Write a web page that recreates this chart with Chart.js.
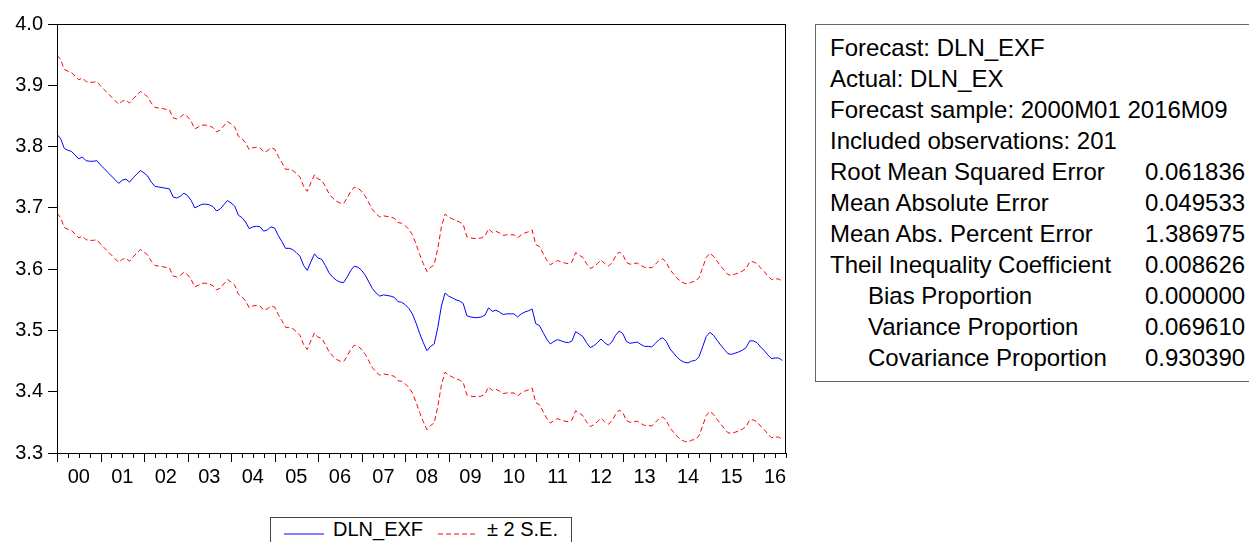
<!DOCTYPE html>
<html>
<head>
<meta charset="utf-8">
<script src="https://cdn.jsdelivr.net/npm/chart.js@4/dist/chart.umd.min.js"></script>
<style>
  html, body { margin: 0; padding: 0; width: 1249px; height: 542px; overflow: hidden; background: #fff; }
  body { position: relative; font-family: "Liberation Sans", Arial, sans-serif; color: #000; }
  #chart { position: absolute; left: 0; top: 0; }
  #stats { position: absolute; left: 815px; top: 24px; width: 500px; height: 356px; border: 1px solid #666; }
  #stats div { position: absolute; font-size: 24px; line-height: 31px; white-space: nowrap; }
  #legend { position: absolute; left: 270px; top: 517px; width: 300px; height: 40px; border: 1px solid #444; }
  #legend span { position: absolute; font-size: 20px; line-height: 20px; top: 1px; white-space: nowrap; }
  #legend svg { position: absolute; top: 14px; }
</style>
</head>
<body>
<canvas id="chart" width="790" height="500"></canvas>
<div id="stats"></div>
<div id="legend"></div>
<script>
// year tick labels (2000 .. 2016)
const yearLabels = ['00','01','02','03','04','05','06','07','08','09','10','11','12','13','14','15','16'];

// DLN_EXF forecast, monthly 2000M01 - 2016M09 (201 obs)
const forecast = [
  3.820,3.813,3.797,3.794,3.792,3.786,3.780,3.783,3.777,3.776,3.776,3.777,
  3.770,3.764,3.758,3.752,3.746,3.740,3.745,3.747,3.742,3.749,3.755,3.761,
  3.757,3.752,3.742,3.735,3.734,3.733,3.732,3.731,3.718,3.716,3.719,3.724,
  3.720,3.712,3.700,3.703,3.706,3.706,3.705,3.702,3.695,3.698,3.705,3.712,
  3.708,3.703,3.688,3.684,3.677,3.666,3.669,3.670,3.669,3.662,3.664,3.669,
  3.667,3.655,3.645,3.634,3.634,3.632,3.627,3.621,3.606,3.598,3.612,3.625,
  3.618,3.616,3.606,3.594,3.587,3.582,3.579,3.578,3.587,3.598,3.605,3.603,
  3.598,3.590,3.579,3.568,3.561,3.556,3.558,3.557,3.556,3.554,3.547,3.546,
  3.542,3.536,3.527,3.512,3.495,3.480,3.467,3.474,3.478,3.505,3.540,3.561,
  3.556,3.553,3.550,3.548,3.544,3.524,3.522,3.521,3.521,3.522,3.525,3.537,
  3.531,3.533,3.530,3.526,3.527,3.527,3.527,3.522,3.527,3.530,3.532,3.535,
  3.511,3.508,3.497,3.486,3.478,3.482,3.485,3.483,3.481,3.480,3.483,3.498,
  3.494,3.490,3.480,3.472,3.475,3.480,3.486,3.480,3.476,3.481,3.492,3.499,
  3.495,3.482,3.479,3.480,3.481,3.477,3.474,3.474,3.473,3.479,3.485,3.488,
  3.482,3.470,3.463,3.456,3.451,3.448,3.447,3.450,3.451,3.457,3.473,3.490,
  3.497,3.492,3.484,3.476,3.469,3.462,3.461,3.463,3.465,3.468,3.472,3.483,
  3.483,3.480,3.473,3.467,3.460,3.454,3.455,3.455,3.451
];

// upper band (+2 S.E.)
const upperBand = [
  3.949,3.942,3.926,3.923,3.921,3.915,3.909,3.912,3.906,3.905,3.905,3.906,
  3.899,3.893,3.887,3.881,3.875,3.869,3.874,3.876,3.871,3.878,3.884,3.890,
  3.886,3.881,3.871,3.864,3.863,3.862,3.861,3.860,3.847,3.845,3.848,3.853,
  3.849,3.841,3.829,3.832,3.835,3.835,3.834,3.831,3.824,3.827,3.834,3.841,
  3.837,3.832,3.817,3.813,3.806,3.795,3.798,3.799,3.798,3.791,3.793,3.798,
  3.796,3.784,3.774,3.763,3.763,3.761,3.756,3.750,3.735,3.727,3.741,3.754,
  3.747,3.745,3.735,3.723,3.716,3.711,3.708,3.707,3.716,3.727,3.734,3.732,
  3.727,3.719,3.708,3.697,3.690,3.685,3.687,3.686,3.685,3.683,3.676,3.675,
  3.671,3.665,3.656,3.641,3.624,3.609,3.596,3.603,3.607,3.634,3.669,3.690,
  3.685,3.682,3.679,3.677,3.673,3.653,3.651,3.650,3.650,3.651,3.654,3.666,
  3.660,3.662,3.659,3.655,3.656,3.656,3.656,3.651,3.656,3.659,3.661,3.664,
  3.640,3.637,3.626,3.615,3.607,3.611,3.614,3.612,3.610,3.609,3.612,3.627,
  3.623,3.619,3.609,3.601,3.604,3.609,3.615,3.609,3.605,3.610,3.621,3.628,
  3.624,3.611,3.608,3.609,3.610,3.606,3.603,3.603,3.602,3.608,3.614,3.617,
  3.611,3.599,3.592,3.585,3.580,3.577,3.576,3.579,3.580,3.586,3.602,3.619,
  3.626,3.621,3.613,3.605,3.598,3.591,3.590,3.592,3.594,3.597,3.601,3.612,
  3.612,3.609,3.602,3.596,3.589,3.583,3.584,3.584,3.580
];

// lower band (-2 S.E.)
const lowerBand = [
  3.691,3.684,3.668,3.665,3.663,3.657,3.651,3.654,3.648,3.647,3.647,3.648,
  3.641,3.635,3.629,3.623,3.617,3.611,3.616,3.618,3.613,3.620,3.626,3.632,
  3.628,3.623,3.613,3.606,3.605,3.604,3.603,3.602,3.589,3.587,3.590,3.595,
  3.591,3.583,3.571,3.574,3.577,3.577,3.576,3.573,3.566,3.569,3.576,3.583,
  3.579,3.574,3.559,3.555,3.548,3.537,3.540,3.541,3.540,3.533,3.535,3.540,
  3.538,3.526,3.516,3.505,3.505,3.503,3.498,3.492,3.477,3.469,3.483,3.496,
  3.489,3.487,3.477,3.465,3.458,3.453,3.450,3.449,3.458,3.469,3.476,3.474,
  3.469,3.461,3.450,3.439,3.432,3.427,3.429,3.428,3.427,3.425,3.418,3.417,
  3.413,3.407,3.398,3.383,3.366,3.351,3.338,3.345,3.349,3.376,3.411,3.432,
  3.427,3.424,3.421,3.419,3.415,3.395,3.393,3.392,3.392,3.393,3.396,3.408,
  3.402,3.404,3.401,3.397,3.398,3.398,3.398,3.393,3.398,3.401,3.403,3.406,
  3.382,3.379,3.368,3.357,3.349,3.353,3.356,3.354,3.352,3.351,3.354,3.369,
  3.365,3.361,3.351,3.343,3.346,3.351,3.357,3.351,3.347,3.352,3.363,3.370,
  3.366,3.353,3.350,3.351,3.352,3.348,3.345,3.345,3.344,3.350,3.356,3.359,
  3.353,3.341,3.334,3.327,3.322,3.319,3.318,3.321,3.322,3.328,3.344,3.361,
  3.368,3.363,3.355,3.347,3.340,3.333,3.332,3.334,3.336,3.339,3.343,3.354,
  3.354,3.351,3.344,3.338,3.331,3.325,3.326,3.326,3.322
];

// forecast evaluation table
const infoLines = ['Forecast: DLN_EXF', 'Actual: DLN_EX', 'Forecast sample: 2000M01 2016M09', 'Included observations: 201'];
const statNames = ['Root Mean Squared Error', 'Mean Absolute Error', 'Mean Abs. Percent Error', 'Theil Inequality Coefficient'];
const statValues = ['0.061836', '0.049533', '1.386975', '0.008626'];
const propNames = ['Bias Proportion', 'Variance Proportion', 'Covariance Proportion'];
const propValues = ['0.000000', '0.069610', '0.930390'];

const seriesNames = ['DLN_EXF', '\u00b1 2 S.E.'];

const FONT = '"Liberation Sans", Arial, sans-serif';

// stats box
const stats = document.getElementById('stats');
function addRow(text, row, left) {
    const d = document.createElement('div');
    d.textContent = text;
    d.style.top = (7 + row * 31) + 'px';
    d.style.left = left + 'px';
    stats.appendChild(d);
}
infoLines.forEach((t, i) => addRow(t, i, 14));
statNames.forEach((t, i) => { addRow(t, 4 + i, 14); addRow(statValues[i], 4 + i, 329); });
propNames.forEach((t, i) => { addRow(t, 8 + i, 52); addRow(propValues[i], 8 + i, 329); });

// legend
document.getElementById('legend').innerHTML =
    '<svg width="42" height="4" style="left:13px"><line x1="0" y1="2" x2="40" y2="2" stroke="#0000ff" stroke-width="1"/></svg>' +
    '<span style="left:62px">' + seriesNames[0] + '</span>' +
    '<svg width="42" height="4" style="left:167px"><line x1="0" y1="2" x2="40" y2="2" stroke="#ff0000" stroke-width="1" stroke-dasharray="5,3"/></svg>' +
    '<span style="left:216px">' + seriesNames[1] + '</span>';

// frame around plot + quarterly/yearly tick marks
const frame = {
    id: 'frame',
    afterDraw: (chart) => {
        const {ctx, chartArea} = chart;
        const x = chart.scales.x;
        ctx.save();
        ctx.strokeStyle = '#000';
        ctx.lineWidth = 1;
        ctx.strokeRect(chartArea.left + 0.5, chartArea.top + 0.5, chartArea.right - chartArea.left - 1, chartArea.bottom - chartArea.top);
        ctx.beginPath();
        x.ticks.forEach(t => {
            const px = Math.round(x.getPixelForValue(t.value)) + 0.5;
            const len = t.value % 12 === 0 ? 9 : 5;
            ctx.moveTo(px, chartArea.bottom);
            ctx.lineTo(px, chartArea.bottom + len);
        });
        ctx.stroke();
        ctx.restore();
    }
};

const toXY = arr => arr.map((v, i) => ({x: i, y: v}));

new Chart(document.getElementById('chart'), {
    type: 'line',
    data: {
        datasets: [
        {
            label: seriesNames[0],
            data: toXY(forecast),
            borderColor: '#0000ff',
            borderWidth: 1,
            pointRadius: 0,
            tension: 0,
        },
        {
            label: seriesNames[1],
            data: toXY(upperBand),
            borderColor: '#ff0000',
            borderWidth: 1,
            borderDash: [5, 3],
            pointRadius: 0,
            tension: 0,
        },
        {
            label: seriesNames[1],
            data: toXY(lowerBand),
            borderColor: '#ff0000',
            borderWidth: 1,
            borderDash: [5, 3],
            pointRadius: 0,
            tension: 0,
        },
    ]
    },
    options: {
        responsive: false,
        animation: false,
        devicePixelRatio: 1,
        layout: { padding: { top: 24, right: 4, bottom: 0, left: 0 } },
        plugins: {
            legend: { display: false },
            tooltip: { enabled: false },
        },
        scales: {
            x: {
                type: 'linear',
                min: 0,
                max: 201,
                grid: { display: false, drawTicks: false },
                border: { display: true, color: '#000' },
                ticks: {
                    stepSize: 3,
                    autoSkip: false,
                    maxRotation: 0,
                    padding: 12,
                    color: '#000',
                    font: { family: FONT, size: 20 },
                    callback: (v) => v % 12 === 6 ? yearLabels[Math.floor(v / 12)] : '',
                },
                afterFit: (s) => { s.height = 47; s.paddingLeft = 0; s.paddingRight = 0; },
            },
            y: {
                min: 3.3,
                max: 4.0,
                grid: { drawOnChartArea: false, drawTicks: true, tickLength: 9, color: '#000' },
                border: { display: true, color: '#000' },
                ticks: {
                    stepSize: 0.1,
                    padding: 5,
                    color: '#000',
                    font: { family: FONT, size: 20 },
                    callback: (v) => v.toFixed(1),
                },
                afterFit: (s) => { s.width = 57; },
            },
        },
    },
    plugins: [frame],
});
</script>
</body>
</html>
